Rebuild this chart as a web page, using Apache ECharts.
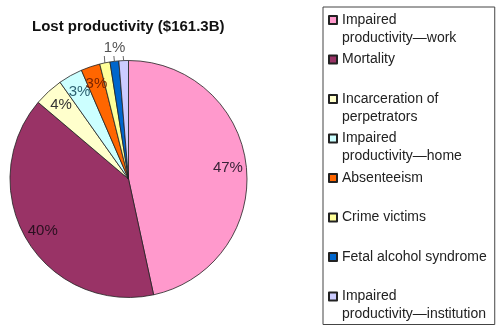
<!DOCTYPE html>
<html>
<head>
<meta charset="utf-8">
<script src="https://cdn.jsdelivr.net/npm/echarts@6/dist/echarts.min.js"></script>
<style>
  html, body { margin: 0; padding: 0; background: #fff; }
  #chart { width: 500px; height: 327px; }
</style>
</head>
<body>
<div id="chart"></div>
<script>
// Share of lost productivity by cost component (percent of $161.3B)
const categories = [
  'Impaired productivity\u2014work',
  'Mortality',
  'Incarceration of perpetrators',
  'Impaired productivity\u2014home',
  'Absenteeism',
  'Crime victims',
  'Fetal alcohol syndrome',
  'Impaired productivity\u2014institution'
];
const shares = [46.6, 39.6, 4.0, 3.3, 2.6, 1.4, 1.2, 1.3];
const sliceColors = ['#FF99CC', '#993366', '#FFFFCC', '#CCFFFF', '#FF6600', '#FFFF99', '#0066CC', '#CCCCFF'];
const labelColors = ['#3a2338', '#2a1020', '#333333', '#2d6272', '#7a2400', 'rgba(0,0,0,0)', '#555555', 'rgba(0,0,0,0)'];
// legend text broken over two lines per entry
const legendLines = {
  'Impaired productivity\u2014work': 'Impaired\nproductivity\u2014work',
  'Mortality': 'Mortality\n ',
  'Incarceration of perpetrators': 'Incarceration of\nperpetrators',
  'Impaired productivity\u2014home': 'Impaired\nproductivity\u2014home',
  'Absenteeism': 'Absenteeism\n ',
  'Crime victims': 'Crime victims\n ',
  'Fetal alcohol syndrome': 'Fetal alcohol syndrome\n ',
  'Impaired productivity\u2014institution': 'Impaired\nproductivity\u2014institution'
};
// the three thinnest slices share one label above the pie
const smallSlices = [5, 6, 7];

const CX = 128.5, CY = 179, R = 118.5;
const FONT = '"Liberation Sans", Arial, sans-serif';

const pieData = categories.map((name, i) => ({
  name: name,
  value: shares[i],
  itemStyle: { color: sliceColors[i] }
}));

const labelData = categories.map((name, i) => {
  const small = smallSlices.indexOf(i) >= 0;
  return {
    name: name,
    value: shares[i],
    label: {
      show: true,
      position: small ? 'outside' : 'inside',
      color: labelColors[i]
    },
    labelLine: { show: small, length: 4, length2: 0, lineStyle: { color: '#666', width: 1 } }
  };
});

const chart = echarts.init(document.getElementById('chart'), null, { renderer: 'canvas' });
chart.setOption({
  animation: false,
  backgroundColor: '#ffffff',
  title: {
    text: 'Lost productivity ($161.3B)',
    left: 32,
    top: 19,
    padding: 0,
    textStyle: { fontFamily: FONT, fontSize: 15, fontWeight: 'bold', color: '#111' }
  },
  legend: {
    orient: 'vertical',
    left: 323,
    top: 7,
    height: 340,
    padding: [3, 8, 0, 5],
    borderColor: '#444',
    borderWidth: 1,
    itemWidth: 8,
    itemHeight: 36,
    itemGap: 1.5,
    icon: 'path://M0,0L0,0M0,36L0,36M0,5H8V13H0Z',
    data: categories,
    selectedMode: false,
    formatter: name => legendLines[name],
    textStyle: { fontFamily: FONT, fontSize: 14, lineHeight: 18, color: '#222' }
  },
  series: [
    {
      type: 'pie',
      center: [CX, CY],
      radius: [0, R],
      startAngle: 90,
      clockwise: true,
      silent: true,
      data: pieData,
      label: { show: false },
      labelLine: { show: false },
      itemStyle: { borderColor: '#222', borderWidth: 0.8 }
    },
    {
      // transparent ring carrying the percentage labels
      type: 'pie',
      center: [CX, CY],
      radius: [R - 43, R],
      startAngle: 90,
      clockwise: true,
      silent: true,
      avoidLabelOverlap: false,
      data: labelData,
      itemStyle: { color: 'rgba(0,0,0,0)', borderWidth: 0 },
      label: {
        formatter: '{d}%',
        fontFamily: FONT,
        fontSize: 15
      },
      percentPrecision: 0,
      labelLayout: function (p) {
        if (smallSlices.indexOf(p.dataIndex) < 0 || !p.labelLinePoints) return {};
        const start = p.labelLinePoints[0];
        const topY = CY - R - 5.5;
        return {
          x: CX - 14,
          y: topY,
          align: 'center',
          verticalAlign: 'bottom',
          labelLinePoints: [start, [start[0] - 0.5, topY + 1]]
        };
      }
    }
  ]
});
</script>
</body>
</html>
